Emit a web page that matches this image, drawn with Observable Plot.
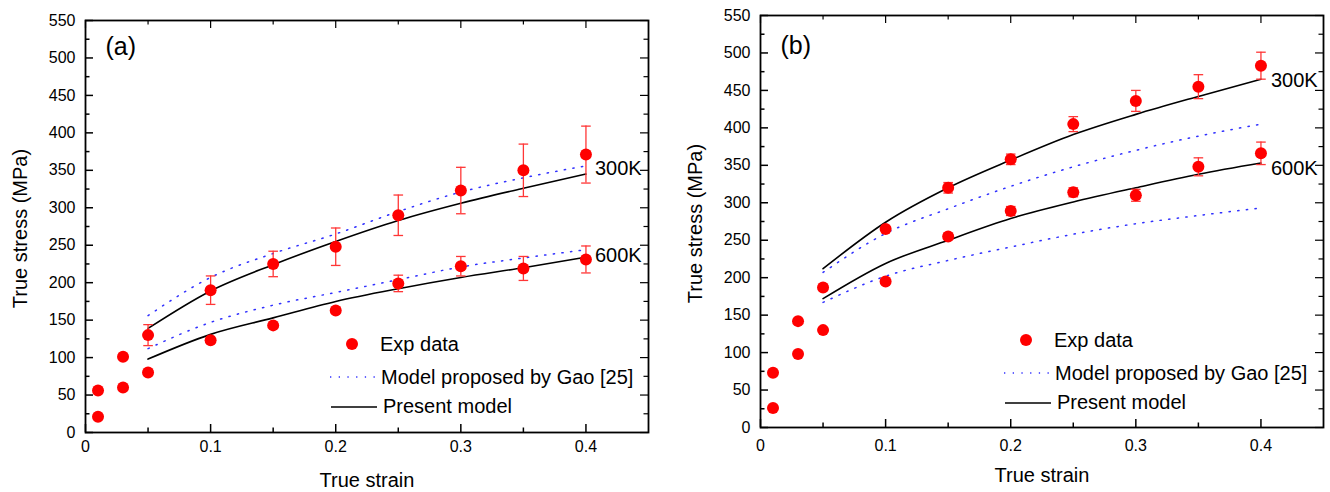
<!DOCTYPE html>
<html>
<head>
<meta charset="utf-8">
<script src="https://cdn.jsdelivr.net/npm/d3@7"></script>
<script src="https://cdn.jsdelivr.net/npm/@observablehq/plot@0.6"></script>
<style>
  body { margin: 0; background: #fff; }
  #wrap { position: relative; width: 1330px; height: 492px; overflow: hidden; background: #fff;
          font-family: "Liberation Sans", Arial, Helvetica, sans-serif; }
  .panel { position: absolute; top: 0; }
  #legend { position: absolute; left: 0; top: 0; pointer-events: none; }
</style>
</head>
<body>
<div id="wrap"></div>
<script>
// ---------- data ----------
const strain = [0.01, 0.03, 0.05, 0.1, 0.15, 0.2, 0.25, 0.3, 0.35, 0.4];
const modelStrain = [0.05, 0.1, 0.15, 0.2, 0.25, 0.3, 0.35, 0.4];

// panel (a)
const aExp300 = [56, 101, 130, 190, 225, 248, 290, 323, 350, 371];
const aErr300 = [0, 0, 14, 19, 17, 25, 27, 31, 35, 38];
const aExp600 = [21, 60, 80, 123, 143, 163, 199, 222, 219, 231];
const aErr600 = [0, 0, 0, 0, 0, 4, 11, 13, 16, 18];
const aPresent300 = [139, 189, 224, 255, 283, 306, 326, 345];
const aPresent600 = [98, 131, 153, 175, 192, 207, 220, 234];
const aGao300 = [156, 207, 239, 265, 295, 321, 340, 356];
const aGao600 = [112, 147, 170, 187, 204, 221, 233, 244];

// panel (b)
const bExp300 = [73, 142, 187, 265, 320, 358, 405, 436, 455, 483];
const bErr300 = [0, 0, 0, 0, 7, 7, 10, 14, 16, 18];
const bExp600 = [26, 98, 130, 195, 255, 289, 314, 310, 348, 366];
const bErr600 = [0, 0, 0, 0, 4, 6, 6, 8, 12, 15];
const bPresent300 = [212, 274, 320, 357, 391, 418, 442, 465];
const bPresent600 = [172, 219, 250, 279, 301, 320, 338, 353];
const bGao300 = [207, 259, 292, 322, 348, 370, 389, 405];
const bGao600 = [167, 202, 223, 241, 258, 272, 283, 293];

// ticks & labels
const xMajor = [0, 0.1, 0.2, 0.3, 0.4];
const xMinor = [0.05, 0.15, 0.25, 0.35];
const yMajor = [0, 50, 100, 150, 200, 250, 300, 350, 400, 450, 500, 550];
const yMinor = [25, 75, 125, 175, 225, 275, 325, 375, 425, 475, 525];
const tempLabels = ["300K", "600K"];
const legendLabels = ["Exp data", "Model proposed by Gao [25]", "Present model"];
const xTitle = "True strain";
const yTitle = "True stress (MPa)";

// ---------- drawing ----------
const FONT = '"Liberation Sans", Arial, Helvetica, sans-serif';
const W = 665, H = 492;
const RED = "#ff0000", ERR = "#ff3636", BLUE = "#3030ff";
const DOTS = "1.3,7.4";

const capSymbol = {
  draw(ctx, size) {
    const r = Math.sqrt(size / Math.PI);
    ctx.moveTo(-r, 0);
    ctx.lineTo(r, 0);
  }
};

function makePanel(cfg) {
  const iw = W - cfg.ml - cfg.mr, ih = H - cfg.mt - cfg.mb;
  const exp = [];
  strain.forEach((s, i) => {
    exp.push({x: s, y: cfg.exp300[i], e: cfg.err300[i]});
    exp.push({x: s, y: cfg.exp600[i], e: cfg.err600[i]});
  });
  const errs = exp.filter(d => d.e > 0);
  const series = (arr, k) => modelStrain.map((s, i) => ({x: s, y: arr[i], k}));
  const gao = series(cfg.gao300, "300").concat(series(cfg.gao600, "600"));
  const pres = series(cfg.pres300, "300").concat(series(cfg.pres600, "600"));
  const n = modelStrain.length - 1;
  const MAJ = 8, MIN = 4.5;

  return Plot.plot({
    width: W, height: H,
    marginLeft: cfg.ml, marginRight: cfg.mr, marginTop: cfg.mt, marginBottom: cfg.mb,
    style: {fontFamily: FONT, fontSize: "16px", background: "white", color: "#000", overflow: "visible"},
    x: {domain: [0, 0.45]},
    y: {domain: [0, 550]},
    marks: [
      // inward ticks on all four sides
      Plot.tickX(xMajor, {x: d => d, insetTop: ih - MAJ, stroke: "#000", strokeWidth: 1.5}),
      Plot.tickX(xMinor, {x: d => d, insetTop: ih - MIN, stroke: "#000", strokeWidth: 1.5}),
      Plot.tickX(xMajor, {x: d => d, insetBottom: ih - MAJ, stroke: "#000", strokeWidth: 1.2}),
      Plot.tickX(xMinor, {x: d => d, insetBottom: ih - MIN, stroke: "#000", strokeWidth: 1.2}),
      Plot.tickY(yMajor, {y: d => d, insetRight: iw - MAJ, stroke: "#000", strokeWidth: 1.5}),
      Plot.tickY(yMinor, {y: d => d, insetRight: iw - MIN, stroke: "#000", strokeWidth: 1.5}),
      Plot.tickY(yMajor, {y: d => d, insetLeft: iw - MAJ, stroke: "#000", strokeWidth: 1.2}),
      Plot.tickY(yMinor, {y: d => d, insetLeft: iw - MIN, stroke: "#000", strokeWidth: 1.2}),
      Plot.axisX(xMajor, {tickSize: 0, tickPadding: cfg.xPad, fontSize: 16, label: null,
        tickFormat: d => d === 0 ? "0" : String(d)}),
      Plot.axisY(yMajor, {tickSize: 0, tickPadding: 10, fontSize: 16, label: null, tickFormat: d => String(d)}),
      // models
      Plot.line(gao, {x: "x", y: "y", z: "k", curve: "monotone-x", stroke: BLUE, strokeWidth: 1.5,
        strokeDasharray: DOTS}),
      Plot.line(pres, {x: "x", y: "y", z: "k", curve: "monotone-x", stroke: "#000", strokeWidth: 1.6}),
      // error bars
      Plot.ruleX(errs, {x: "x", y1: d => d.y - d.e, y2: d => d.y + d.e, stroke: ERR, strokeWidth: 1.3}),
      Plot.dot(errs, {x: "x", y: d => d.y - d.e, symbol: capSymbol, r: 4.8, fill: "none", stroke: ERR, strokeWidth: 1.3}),
      Plot.dot(errs, {x: "x", y: d => d.y + d.e, symbol: capSymbol, r: 4.8, fill: "none", stroke: ERR, strokeWidth: 1.3}),
      // experimental points
      Plot.dot(exp, {x: "x", y: "y", r: 6, fill: RED, stroke: "none"}),
      // frame
      Plot.frame({stroke: "#000", strokeWidth: 1.8}),
      // temperature labels
      Plot.text([tempLabels[0]], {x: () => modelStrain[n], y: () => cfg.pres300[n], text: d => d,
        textAnchor: "start", lineAnchor: "middle", dx: cfg.tdx, dy: cfg.dy300, fontSize: 20, fill: "#000"}),
      Plot.text([tempLabels[1]], {x: () => modelStrain[n], y: () => cfg.pres600[n], text: d => d,
        textAnchor: "start", lineAnchor: "middle", dx: cfg.tdx, dy: cfg.dy600, fontSize: 20, fill: "#000"}),
      // panel tag
      Plot.text([cfg.tag], {frameAnchor: "top-left", text: d => d, textAnchor: "start", lineAnchor: "middle",
        dx: 20, dy: cfg.tagDy, fontSize: 25, fill: "#000"}),
      // axis titles
      Plot.text([xTitle], {frameAnchor: "bottom", text: d => d, textAnchor: "middle", lineAnchor: "middle",
        dy: 48, fontSize: 20, fill: "#000"}),
      Plot.text([yTitle], {frameAnchor: "left", text: d => d, textAnchor: "middle", lineAnchor: "middle",
        rotate: -90, dx: -65, dy: 2, fontSize: 20, fill: "#000"})
    ]
  });
}

const wrap = document.getElementById("wrap");

const panelA = makePanel({
  tag: "(a)", ml: 85, mr: 17, mt: 20, mb: 60, xPad: 8, tdx: 9, dy300: -5.5, dy600: -1.5, tagDy: 26,
  exp300: aExp300, err300: aErr300, exp600: aExp600, err600: aErr600,
  pres300: aPresent300, pres600: aPresent600, gao300: aGao300, gao600: aGao600
});
const panelB = makePanel({
  tag: "(b)", ml: 95, mr: 7, mt: 15, mb: 65, xPad: 12, tdx: 10, dy300: 1.5, dy600: 5.5, tagDy: 30,
  exp300: bExp300, err300: bErr300, exp600: bExp600, err600: bErr600,
  pres300: bPresent300, pres600: bPresent600, gao300: bGao300, gao600: bGao600
});
panelA.classList.add("panel"); panelA.style.left = "0px";
panelB.classList.add("panel"); panelB.style.left = "665px";
wrap.appendChild(panelA);
wrap.appendChild(panelB);

// ---------- legends (inside each frame) ----------
const legendSvg = d3.select(wrap).append("svg").attr("id", "legend")
  .attr("width", 1330).attr("height", 492)
  .style("font-family", FONT);

function legend(ox, oy) {
  const g = legendSvg.append("g").attr("transform", `translate(${ox},${oy})`);
  g.append("circle").attr("cx", 22).attr("cy", 0).attr("r", 6).attr("fill", RED);
  g.append("line").attr("x1", 0).attr("x2", 46).attr("y1", 33).attr("y2", 33)
    .attr("stroke", BLUE).attr("stroke-width", 1.5).attr("stroke-dasharray", DOTS);
  g.append("line").attr("x1", 1).attr("x2", 47).attr("y1", 63).attr("y2", 63)
    .attr("stroke", "#000").attr("stroke-width", 1.6);
  const tx = [50, 51, 53], ty = [0, 33, 62];
  legendLabels.forEach((t, i) => {
    g.append("text").attr("x", tx[i]).attr("y", ty[i]).attr("dy", "0.35em")
      .attr("font-size", 20).attr("fill", "#000").text(t);
  });
}
legend(330, 344);
legend(1004, 340);
</script>
</body>
</html>
